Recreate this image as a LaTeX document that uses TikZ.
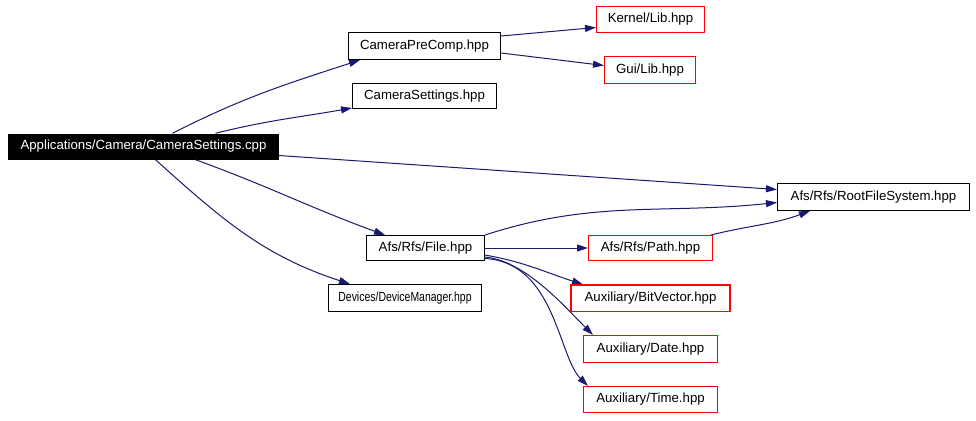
\documentclass[tikz,border=0pt]{standalone}
\usepackage{fontspec}
\setmainfont{Liberation Sans}
\usepackage{graphicx}
\usepackage{tikz}
\usetikzlibrary{arrows.meta, calc}
\definecolor{EdgeNavy}{HTML}{191970}
\definecolor{MissRed}{HTML}{FF0000}

\begin{document}
\begin{tikzpicture}[x=1bp, y=1bp,
    >={Triangle[length=11bp, width=7bp]},
    every node/.style={font=\fontsize{13.3}{15}\selectfont, inner sep=0pt},
    filebox/.style={draw=black, fill=white, line width=1bp, minimum height=26bp},
    missbox/.style={draw=MissRed, fill=white, text=black, line width=1bp, minimum height=26bp},
    dep/.style={->, color=EdgeNavy, line width=1bp}]
    \useasboundingbox (0,0) rectangle (976,420);

    \begin{scope}[shift={(0.5,0.5)}]
    % Source file
    \node[fill=black, text=white, minimum width=270bp, minimum height=26bp] (cpp) at (143,273) {Applications/Camera/CameraSettings.cpp};

    % Included files, top to bottom
    \node[missbox, minimum width=108bp] (kernellib) at (650,400) {Kernel/Lib.hpp};
    \node[filebox, minimum width=152bp, minimum height=27bp] (precomp) at (424,373.5) {CameraPreComp.hpp};
    \node[missbox, minimum width=91bp, minimum height=27bp] (guilib) at (649.5,349.5) {Gui/Lib.hpp};
    \node[filebox, minimum width=144bp, minimum height=25bp] (settings) at (424,323.5) {CameraSettings.hpp};
    \node[missbox, minimum width=124bp, minimum height=25bp] (rfspath) at (650,171.5) {Afs/Rfs/Path.hpp};
    \node[filebox, minimum width=192bp, minimum height=27bp] (rootfs) at (873,222.5) {Afs/Rfs/RootFileSystem.hpp};
    \node[missbox, minimum width=158bp] (bitvec) at (650,121.5) {Auxiliary/BitVector.hpp};
    \node[filebox, minimum width=118bp, minimum height=25bp] (rfsfile) at (425,171.5) {Afs/Rfs/File.hpp};
    \node[missbox, minimum width=134bp, minimum height=27bp] (auxdate) at (650,70.5) {Auxiliary/Date.hpp};
    \node[filebox, minimum width=153bp, minimum height=27bp] (devmgr) at (404.5,121.5) {\scalebox{0.79}[1]{Devices/DeviceManager.hpp}};
    \node[missbox, minimum width=134bp] (auxtime) at (650,20) {Auxiliary/Time.hpp};

    % Edges out of the source file
    \draw[dep] ([xshift=29bp]cpp.north) to[out=27, in=198] ([xshift=12bp]precomp.south west);
    \draw[dep] ([xshift=72bp]cpp.north) to[out=14, in=190] ([yshift=1bp]settings.south west);
    \draw[dep] ([yshift=-9bp]cpp.east) -- ([yshift=7.5bp]rootfs.west);
    \draw[dep] ([xshift=52bp]cpp.south) to[out=-20, in=160] ([xshift=19bp]rfsfile.north west);
    \draw[dep] ([xshift=12bp]cpp.south) to[out=-42, in=162] ([xshift=22bp]devmgr.north west);

    % Edges out of CameraPreComp.hpp
    \draw[dep] ([yshift=-4bp]precomp.north east) -- ([yshift=-8bp]kernellib.west);
    \draw[dep] ([yshift=7bp]precomp.south east) -- ([yshift=4.5bp]guilib.west);

    % Edges out of File.hpp
    \draw[dep] (rfsfile.north east) to[out=18, in=186] ([yshift=-5.5bp]rootfs.west);
    \draw[dep] (rfsfile.east) -- (rfspath.west);
    \draw[dep] ([xshift=-2bp]rfspath.north east) to[out=14, in=200] ([xshift=33bp]rootfs.south west);
    \draw[dep] ([yshift=-7bp]rfsfile.east) to[out=-10, in=162] ([xshift=12bp]bitvec.north west);
    \draw[dep] ([yshift=-9bp]rfsfile.east) .. controls +(40,-4) and +(-30,30) .. ([xshift=10bp]auxdate.north west);
    \draw[dep] ([yshift=-10.5bp]rfsfile.east) .. controls +(70,-4) and +(-30,30) .. ([xshift=5bp]auxtime.north west);

    % Frame of BitVector.hpp once more, on top
    \draw[MissRed, line width=1.2bp] (bitvec.south west) rectangle (bitvec.north east);
    \end{scope}
\end{tikzpicture}
\end{document}
